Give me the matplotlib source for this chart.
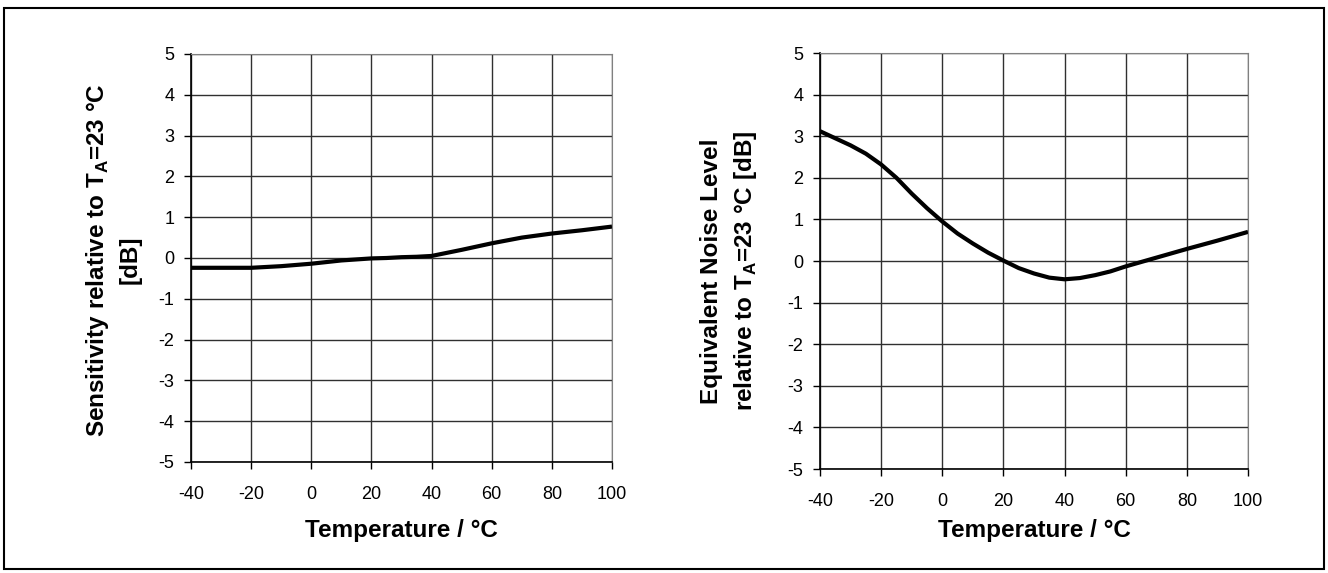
import numpy as np
import matplotlib.pyplot as plt
from matplotlib.patches import Rectangle

plt.rcParams['font.family'] = ['Liberation Sans', 'DejaVu Sans']
plt.rcParams['mathtext.fontset'] = 'custom'
plt.rcParams['mathtext.rm'] = 'Liberation Sans'
plt.rcParams['mathtext.bf'] = 'Liberation Sans:bold'
plt.rcParams['axes.unicode_minus'] = False

# sensitivity vs temperature
temp_s = [-40, -30, -20, -10, 0, 10, 20, 25, 30, 35, 40, 50, 60, 70, 80, 90, 100]
sens = [-0.24, -0.24, -0.24, -0.2, -0.14, -0.06, -0.01, 0.0, 0.02, 0.03, 0.05, 0.2, 0.36, 0.5, 0.6, 0.68, 0.77]

# equivalent noise level vs temperature
temp_n = [-40, -35, -30, -25, -20, -15, -10, -5, 0, 5, 10, 15, 20, 25, 30, 35, 40, 45, 50, 55, 60, 70, 80, 90, 100]
noise = [3.12, 2.95, 2.78, 2.58, 2.32, 2.0, 1.62, 1.27, 0.95, 0.66, 0.42, 0.2, 0.01, -0.17, -0.3, -0.4, -0.44, -0.41, -0.34, -0.25, -0.13, 0.08, 0.29, 0.49, 0.7]

xticks = [-40, -20, 0, 20, 40, 60, 80, 100]
yticks = [-5, -4, -3, -2, -1, 0, 1, 2, 3, 4, 5]

W, H = 1328, 573
fig = plt.figure(figsize=(W / 100, H / 100), dpi=100)
fig.patches.append(Rectangle((4/W, 1 - 569/H), 1320/W, 561/H, transform=fig.transFigure,
                             fill=False, edgecolor='black', linewidth=1.5))

ax1 = fig.add_axes([191/W, 1 - 462/H, 421/W, 408/H])
ax2 = fig.add_axes([820/W, 1 - 469/H, 428/W, 416/H])

lab1 = 'Sensitivity relative to T$_{\\mathbf{A}}$=23 °C\n[dB]'
lab2 = 'Equivalent Noise Level\nrelative to T$_{\\mathbf{A}}$=23 °C [dB]'

for ax, x, y in [(ax1, temp_s, sens), (ax2, temp_n, noise)]:
    ax.plot(x, y, color='black', linewidth=3, solid_capstyle='butt')
    ax.set_xlim(-40, 100)
    ax.set_ylim(-5, 5)
    ax.set_xticks(xticks)
    ax.set_yticks(yticks)
    ax.grid(True, color='#303030', linewidth=1)
    ax.set_axisbelow(True)
    ax.tick_params(direction='out', length=5, width=1, labelsize=13)
    ax.tick_params(axis='y', pad=7)
    ax.tick_params(axis='x', pad=12)
    for s in ['top', 'right']:
        ax.spines[s].set_color('#808080')
    for s in ['left', 'bottom']:
        ax.spines[s].set_linewidth(1.2)

ax1.set_xlabel('Temperature / °C', fontsize=17.5, fontweight='bold')
ax2.set_xlabel('Temperature / °C', fontsize=17.5, fontweight='bold')
ax1.xaxis.set_label_coords(0.5, (462 - 530) / 408)
ax2.xaxis.set_label_coords(0.5, (469 - 530) / 416)
ax1.xaxis.label.set_va('center')
ax2.xaxis.label.set_va('center')

fig.text(113/W, 1 - 260/H, lab1, rotation=90, ha='center', va='center', fontsize=17.5,
         fontweight='bold', multialignment='center', linespacing=1.45)
fig.text(729/W, 1 - 271/H, lab2, rotation=90, ha='center', va='center', fontsize=17.5,
         fontweight='bold', multialignment='center', linespacing=1.45)

fig.savefig('out.png', dpi=100)
